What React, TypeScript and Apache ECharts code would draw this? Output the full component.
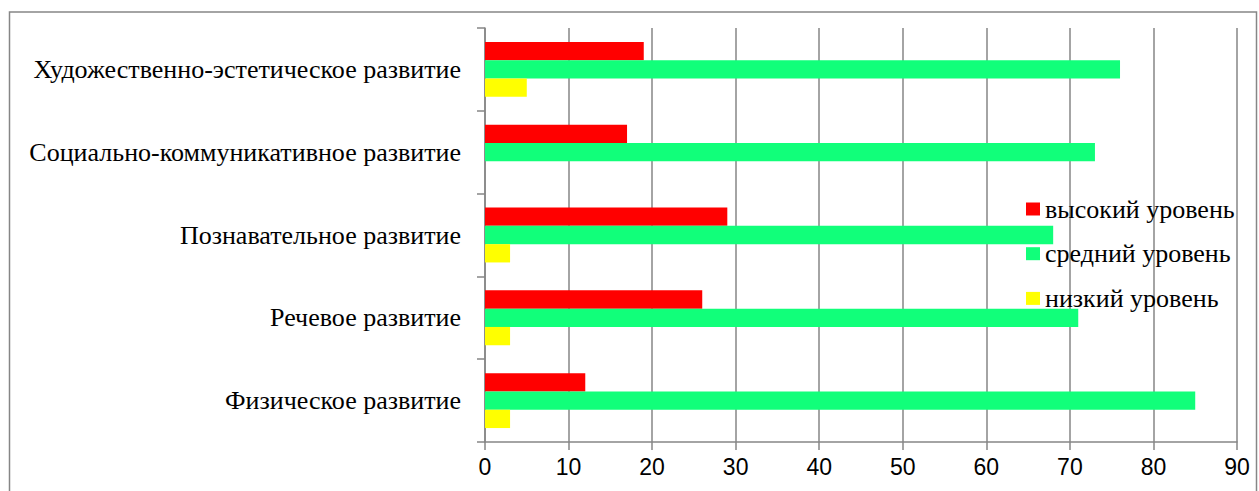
import React, { useEffect, useRef } from "react";
import * as echarts from "echarts";

const categories = [
  "Физическое развитие",
  "Речевое развитие",
  "Познавательное развитие",
  "Социально-коммуникативное развитие",
  "Художественно-эстетическое развитие",
];
const seriesNames = ["высокий уровень", "средний уровень", "низкий уровень"];
const highLevel = [12, 26, 29, 17, 19];
const midLevel = [85, 71, 68, 73, 76];
const lowLevel = [3, 3, 3, 0, 5];
const colors = ["#FF0000", "#11FF7A", "#FFFF00"];

export default function App() {
  const ref = useRef<HTMLDivElement>(null);
  useEffect(() => {
    if (!ref.current) return;
    const chart = echarts.init(ref.current, null, { renderer: "svg" });
    const gray = "#868686";
    const values = [highLevel, midLevel, lowLevel];
    chart.setOption({
      animation: false,
      textStyle: { fontFamily: "Times New Roman" },
      grid: { left: 485, right: 22, top: 28, bottom: 49, containLabel: false },
      graphic: [
        {
          type: "rect",
          shape: { x: 9.5, y: 12, width: 1247, height: 520 },
          style: { fill: "none", stroke: gray, lineWidth: 1.5 },
          silent: true,
        },
      ],
      legend: {
        orient: "vertical",
        left: 1026,
        top: 196,
        padding: 0,
        itemGap: 18.7,
        itemWidth: 14,
        itemHeight: 13,
        icon: "rect",
        data: seriesNames,
        textStyle: {
          fontFamily: "Times New Roman",
          fontSize: 26,
          color: "#000",
          lineHeight: 26,
        },
      },
      xAxis: {
        type: "value",
        min: 0,
        max: 90,
        interval: 10,
        axisLine: { show: true, lineStyle: { color: gray, width: 1.5 } },
        axisTick: { show: true, length: 8, lineStyle: { color: gray, width: 1.5 } },
        splitLine: { show: true, lineStyle: { color: gray, width: 1.5 } },
        axisLabel: {
          fontFamily: "Liberation Sans",
          fontSize: 23,
          color: "#000",
          margin: 13,
        },
      },
      yAxis: {
        type: "category",
        data: categories,
        axisLine: { show: true, lineStyle: { color: gray, width: 1.5 } },
        axisTick: { show: true, length: 8, lineStyle: { color: gray, width: 1.5 } },
        axisLabel: {
          fontFamily: "Times New Roman",
          fontSize: 26,
          color: "#000",
          margin: 24,
        },
      },
      series: seriesNames.map((name, i) => ({
        name,
        type: "bar",
        data: values[i],
        barWidth: 18.3,
        barGap: "0%",
        itemStyle: { color: colors[i] },
      })),
    });
    return () => chart.dispose();
  }, []);
  return (
    <div
      ref={ref}
      style={{ position: "absolute", left: 0, top: 0, width: 1259, height: 491, background: "#fff" }}
    />
  );
}
